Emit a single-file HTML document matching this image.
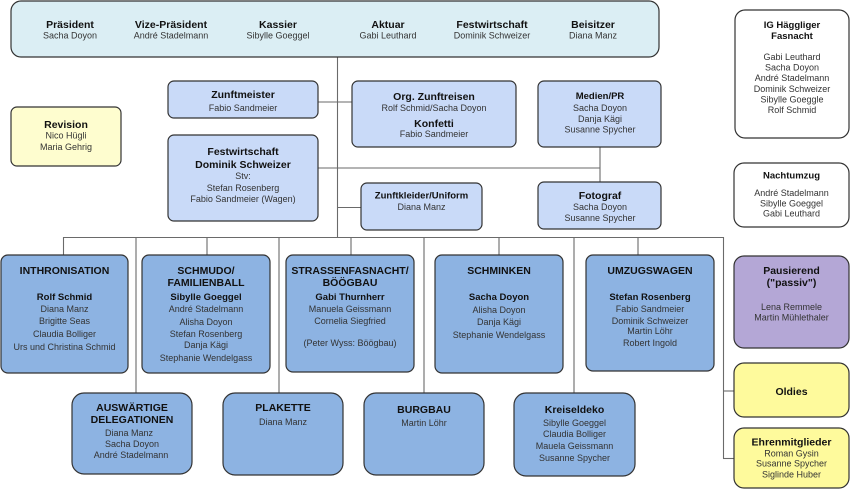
<!DOCTYPE html>
<html><head><meta charset="utf-8">
<style>
html,body{margin:0;padding:0;background:#fff;}
svg{display:block;}
text{font-family:"Liberation Sans",Arial,sans-serif;fill:#222;text-anchor:middle;}
.b{font-weight:bold;font-size:10.5px;fill:#111;}
.bs{font-weight:bold;font-size:9.5px;fill:#111;}
.n{font-size:9px;fill:#333;}
.box{stroke:#333;stroke-width:1.2;}
.ln{stroke:#6a6a6a;stroke-width:1.1;fill:none;}
</style></head>
<body>
<svg width="850" height="490" viewBox="0 0 850 490" xmlns="http://www.w3.org/2000/svg">
<!-- connectors -->
<g class="ln">
<line x1="337.5" y1="57" x2="337.5" y2="238"/>
<line x1="318" y1="102" x2="352" y2="102"/>
<line x1="318" y1="168" x2="600" y2="168"/>
<line x1="600" y1="147" x2="600" y2="182"/>
<line x1="337" y1="207.5" x2="361" y2="207.5"/>
<line x1="63.5" y1="237.5" x2="723.5" y2="237.5"/>
<line x1="63.5" y1="237" x2="63.5" y2="255"/>
<line x1="136" y1="237" x2="136" y2="393"/>
<line x1="207" y1="237" x2="207" y2="255"/>
<line x1="279" y1="237" x2="279" y2="393"/>
<line x1="351" y1="237" x2="351" y2="255"/>
<line x1="424" y1="237" x2="424" y2="393"/>
<line x1="499" y1="237" x2="499" y2="255"/>
<line x1="574" y1="237" x2="574" y2="393"/>
<line x1="638" y1="237" x2="638" y2="255"/>
<line x1="723.5" y1="237" x2="723.5" y2="458.5"/>
<line x1="723" y1="391" x2="734" y2="391"/>
<line x1="723" y1="458.5" x2="734" y2="458.5"/>
</g>

<!-- top box -->
<rect class="box" x="11" y="1" width="648" height="56" rx="10" fill="#dbeef4"/>
<text class="b" x="70" y="28">Präsident</text><text class="n" x="70" y="38.5">Sacha Doyon</text>
<text class="b" x="171" y="28">Vize-Präsident</text><text class="n" x="171" y="38.5">André Stadelmann</text>
<text class="b" x="278" y="28">Kassier</text><text class="n" x="278" y="38.5">Sibylle Goeggel</text>
<text class="b" x="388" y="28">Aktuar</text><text class="n" x="388" y="38.5">Gabi Leuthard</text>
<text class="b" x="492" y="28">Festwirtschaft</text><text class="n" x="492" y="38.5">Dominik Schweizer</text>
<text class="b" x="593" y="28">Beisitzer</text><text class="n" x="593" y="38.5">Diana Manz</text>

<!-- IG box -->
<rect class="box" x="735" y="10" width="114" height="128" rx="10" fill="#fff"/>
<text class="bs" x="792" y="28">IG Häggliger</text>
<text class="bs" x="792" y="39">Fasnacht</text>
<text class="n" x="792" y="60">Gabi Leuthard</text>
<text class="n" x="792" y="70.5">Sacha Doyon</text>
<text class="n" x="792" y="81">André Stadelmann</text>
<text class="n" x="792" y="92">Dominik Schweizer</text>
<text class="n" x="792" y="102.5">Sibylle Goeggle</text>
<text class="n" x="792" y="113">Rolf Schmid</text>

<!-- Revision -->
<rect class="box" x="11" y="107" width="110" height="59" rx="6" fill="#fefdcf"/>
<text class="b" x="66" y="128">Revision</text>
<text class="n" x="66" y="138.5">Nico Hügli</text>
<text class="n" x="66" y="150">Maria Gehrig</text>

<!-- Zunftmeister -->
<rect class="box" x="168" y="81" width="150" height="37" rx="6" fill="#c9daf8"/>
<text class="b" x="243" y="98">Zunftmeister</text>
<text class="n" x="243" y="111">Fabio Sandmeier</text>

<!-- Festwirtschaft -->
<rect class="box" x="168" y="135" width="150" height="86" rx="6" fill="#c9daf8"/>
<text class="b" x="243" y="155">Festwirtschaft</text>
<text class="b" x="243" y="168">Dominik Schweizer</text>
<text class="n" x="243" y="179">Stv:</text>
<text class="n" x="243" y="191">Stefan Rosenberg</text>
<text class="n" x="243" y="202">Fabio Sandmeier (Wagen)</text>

<!-- Org Zunftreisen -->
<rect class="box" x="352" y="81" width="164" height="66" rx="6" fill="#c9daf8"/>
<text class="b" x="434" y="100">Org. Zunftreisen</text>
<text class="n" x="434" y="111">Rolf Schmid/Sacha Doyon</text>
<text class="b" x="434" y="127">Konfetti</text>
<text class="n" x="434" y="137">Fabio Sandmeier</text>

<!-- Medien/PR -->
<rect class="box" x="538" y="81" width="123" height="66" rx="6" fill="#c9daf8"/>
<text class="bs" x="600" y="99">Medien/PR</text>
<text class="n" x="600" y="111">Sacha Doyon</text>
<text class="n" x="600" y="122">Danja Kägi</text>
<text class="n" x="600" y="132.5">Susanne Spycher</text>

<!-- Zunftkleider -->
<rect class="box" x="361" y="183" width="121" height="47" rx="6" fill="#c9daf8"/>
<text class="bs" x="421.5" y="198.5">Zunftkleider/Uniform</text>
<text class="n" x="421.5" y="210">Diana Manz</text>

<!-- Fotograf -->
<rect class="box" x="538" y="182" width="123" height="47" rx="6" fill="#c9daf8"/>
<text class="b" x="600" y="199">Fotograf</text>
<text class="n" x="600" y="210">Sacha Doyon</text>
<text class="n" x="600" y="221">Susanne Spycher</text>

<!-- Nachtumzug -->
<rect class="box" x="734" y="163" width="115" height="64" rx="10" fill="#fff"/>
<text class="bs" x="791.5" y="178.5">Nachtumzug</text>
<text class="n" x="791.5" y="196">André Stadelmann</text>
<text class="n" x="791.5" y="206.5">Sibylle Goeggel</text>
<text class="n" x="791.5" y="216.5">Gabi Leuthard</text>

<!-- Pausierend -->
<rect class="box" x="734" y="256" width="115" height="92" rx="10" fill="#b4a7d6"/>
<text class="b" x="791.5" y="274">Pausierend</text>
<text class="b" x="791.5" y="286">("passiv")</text>
<text class="n" x="791.5" y="310">Lena Remmele</text>
<text class="n" x="791.5" y="320.5">Martin Mühlethaler</text>

<!-- Oldies -->
<rect class="box" x="734" y="363" width="115" height="54" rx="10" fill="#fefa9c"/>
<text class="b" x="791.5" y="395">Oldies</text>

<!-- Ehrenmitglieder -->
<rect class="box" x="734" y="428" width="115" height="60" rx="10" fill="#fefa9c"/>
<text class="b" x="791.5" y="445.5">Ehrenmitglieder</text>
<text class="n" x="791.5" y="456.5">Roman Gysin</text>
<text class="n" x="791.5" y="466.5">Susanne Spycher</text>
<text class="n" x="791.5" y="477.5">Siglinde Huber</text>

<!-- Row 1 -->
<rect class="box" x="1" y="255" width="127" height="118" rx="7" fill="#8db3e2"/>
<text class="b" x="64.5" y="274">INTHRONISATION</text>
<text class="bs" x="64.5" y="300">Rolf Schmid</text>
<text class="n" x="64.5" y="312">Diana Manz</text>
<text class="n" x="64.5" y="324">Brigitte Seas</text>
<text class="n" x="64.5" y="337">Claudia Bolliger</text>
<text class="n" x="64.5" y="350">Urs und Christina Schmid</text>

<rect class="box" x="142" y="255" width="128" height="118" rx="7" fill="#8db3e2"/>
<text class="b" x="206" y="274">SCHMUDO/</text>
<text class="b" x="206" y="286">FAMILIENBALL</text>
<text class="bs" x="206" y="300">Sibylle Goeggel</text>
<text class="n" x="206" y="312">André Stadelmann</text>
<text class="n" x="206" y="325">Alisha Doyon</text>
<text class="n" x="206" y="337">Stefan Rosenberg</text>
<text class="n" x="206" y="348">Danja Kägi</text>
<text class="n" x="206" y="361">Stephanie Wendelgass</text>

<rect class="box" x="286" y="255" width="128" height="117" rx="7" fill="#8db3e2"/>
<text class="b" x="350" y="274">STRASSENFASNACHT/</text>
<text class="b" x="350" y="286">BÖÖGBAU</text>
<text class="bs" x="350" y="300">Gabi Thurnherr</text>
<text class="n" x="350" y="312">Manuela Geissmann</text>
<text class="n" x="350" y="324">Cornelia Siegfried</text>
<text class="n" x="350" y="346">(Peter Wyss: Böögbau)</text>

<rect class="box" x="435" y="255" width="128" height="118" rx="7" fill="#8db3e2"/>
<text class="b" x="499" y="274">SCHMINKEN</text>
<text class="bs" x="499" y="300">Sacha Doyon</text>
<text class="n" x="499" y="313">Alisha Doyon</text>
<text class="n" x="499" y="325">Danja Kägi</text>
<text class="n" x="499" y="338">Stephanie Wendelgass</text>

<rect class="box" x="586" y="255" width="128" height="116" rx="7" fill="#8db3e2"/>
<text class="b" x="650" y="274">UMZUGSWAGEN</text>
<text class="bs" x="650" y="300">Stefan Rosenberg</text>
<text class="n" x="650" y="312">Fabio Sandmeier</text>
<text class="n" x="650" y="324">Dominik Schweizer</text>
<text class="n" x="650" y="334">Martin Löhr</text>
<text class="n" x="650" y="346">Robert Ingold</text>

<!-- Row 2 -->
<rect class="box" x="72" y="393" width="120" height="81" rx="12" fill="#8db3e2"/>
<text class="b" x="132" y="411">AUSWÄRTIGE</text>
<text class="b" x="132" y="423">DELEGATIONEN</text>
<text class="n" x="129" y="436">Diana Manz</text>
<text class="n" x="132" y="447">Sacha Doyon</text>
<text class="n" x="131" y="458">André Stadelmann</text>

<rect class="box" x="223" y="393" width="120" height="82" rx="12" fill="#8db3e2"/>
<text class="b" x="283" y="411">PLAKETTE</text>
<text class="n" x="283" y="425">Diana Manz</text>

<rect class="box" x="364" y="393" width="120" height="82" rx="12" fill="#8db3e2"/>
<text class="b" x="424" y="413">BURGBAU</text>
<text class="n" x="424" y="426">Martin Löhr</text>

<rect class="box" x="514" y="393" width="121" height="83" rx="12" fill="#8db3e2"/>
<text class="b" x="574.5" y="413">Kreiseldeko</text>
<text class="n" x="574.5" y="426">Sibylle Goeggel</text>
<text class="n" x="574.5" y="437">Claudia Bolliger</text>
<text class="n" x="574.5" y="449">Mauela Geissmann</text>
<text class="n" x="574.5" y="461">Susanne Spycher</text>
</svg>
</body></html>
